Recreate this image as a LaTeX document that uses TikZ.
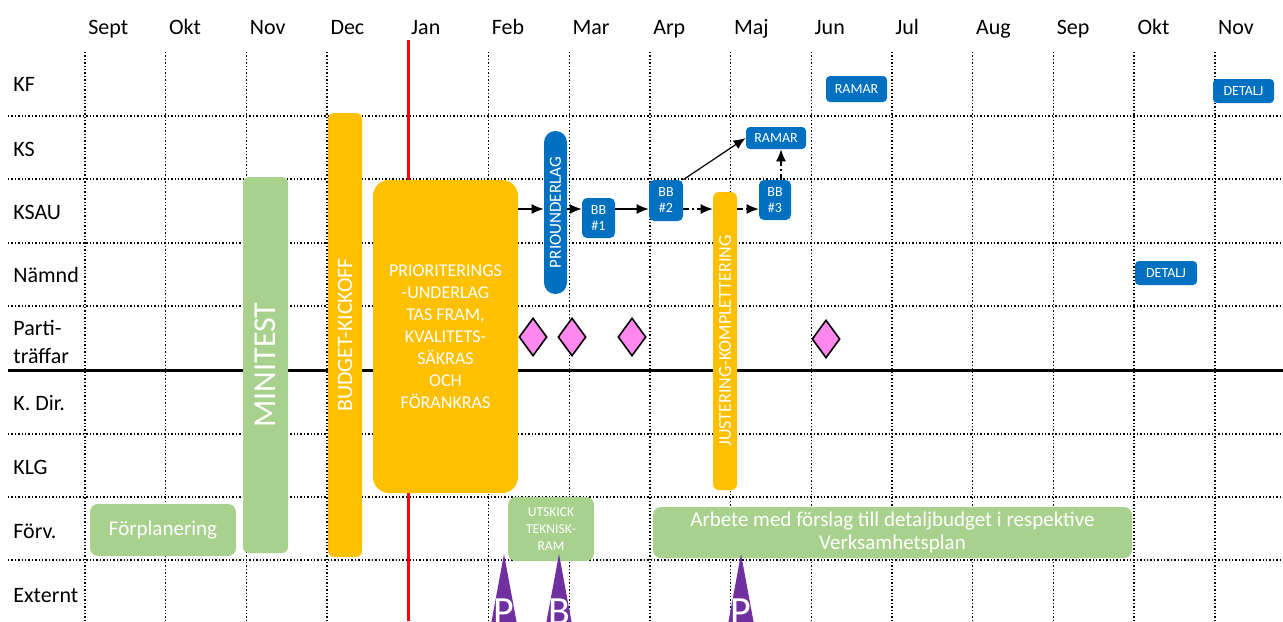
\documentclass[tikz,border=0pt]{standalone}
\usepackage{fontspec}
\setmainfont{Carlito}
\usetikzlibrary{arrows.meta,shapes.geometric}
\definecolor{kblue}{HTML}{0070C0}
\definecolor{korange}{HTML}{FFC000}
\definecolor{kgreen}{HTML}{A9D18E}
\definecolor{kpurple}{HTML}{7030A0}
\definecolor{kpink}{HTML}{FF88EE}

\begin{document}
\begin{tikzpicture}[x=0.5pt, y=-0.5pt,
  grid/.style={densely dotted, line width=0.7pt},
  monthlbl/.style={anchor=base west, inner sep=0pt, font=\fontsize{11}{13}\selectfont},
  rowlbl/.style={anchor=base west, inner sep=0pt, font=\fontsize{11}{14}\selectfont, align=left},
  box/.style={rectangle, rounded corners=2.5pt, inner sep=0pt, text=white, align=center},
  bluebox/.style={box, fill=kblue, font=\fontsize{7}{8}\selectfont},
  orangebox/.style={box, fill=korange, rounded corners=3pt},
  greenbox/.style={box, fill=kgreen, rounded corners=4pt},
  meet/.style={diamond, draw=black, fill=kpink, line width=0.8pt, inner sep=0pt, minimum width=14pt, minimum height=19pt},
  extlbl/.style={anchor=base, inner sep=0pt, text=white, font=\fontsize{20}{20}\selectfont},
  flow/.style={-{Latex[length=6pt,width=5pt]}, line width=0.6pt},
  dashdotline/.style={dash pattern=on 3pt off 1.5pt on 0.8pt off 1.5pt}]
  \clip (0,0) rectangle (1283,621);

  % Grid
  \foreach \i in {0,...,14}
    \draw[grid] ({85+80.7*\i},52) -- ({85+80.7*\i},621);
  \foreach \y in {116,179,243,306,434,497,560}
    \draw[grid] (8,\y) -- (1283,\y);
  \draw[line width=1.5pt] (8,370) -- (1283,370);
  \draw[red, line width=1.5pt] (408,40) -- (408,621);

  % Months and rows
  \foreach \m [count=\i from 0] in {Sept,Okt,Nov,Dec,Jan,Feb,Mar,Arp,Maj,Jun,Jul,Aug,Sep,Okt,Nov}
    \node[monthlbl] (m\i) at ({85+80.7*\i+3},34) {\m};
  \foreach \lbl/\yb [count=\i] in {KF/91,KS/156,KSAU/219,Nämnd/282,K. Dir./410,KLG/474,Förv./538,Externt/602}
    \node[rowlbl] (row\i) at (13,\yb) {\lbl};
  \node[rowlbl, anchor=west] (rowparti) at (13,342) {Parti-\\träffar};

  % Bars
  \node[greenbox, rounded corners=3pt, minimum width=22.5pt, minimum height=188pt, font=\fontsize{16}{16}\selectfont] (minitest) at (265.5,365) {\rotatebox{90}{MINITEST}};
  \node[orangebox, minimum width=17pt, minimum height=222pt, font=\fontsize{11}{11}\selectfont] (kickoff) at (345,335) {\rotatebox{90}{BUDGET-KICKOFF}};
  \node[orangebox, rounded corners=8pt, minimum width=72.5pt, minimum height=156.5pt, font=\fontsize{9}{11}\selectfont] (prio) at (445.5,336.5) {PRIORITERINGS\\-UNDERLAG\\TAS FRAM,\\KVALITETS-\\SÄKRAS\\OCH\\FÖRANKRAS};
  \node[bluebox, rounded corners=5.7pt, minimum width=11.5pt, minimum height=81.5pt, font=\fontsize{8.5}{8.5}\selectfont] (underlag) at (555.5,212.5) {\rotatebox{90}{PRIOUNDERLAG}};
  \node[orangebox, minimum width=12pt, minimum height=149pt, font=\fontsize{9}{9}\selectfont] (justering) at (725,341) {\rotatebox{90}{JUSTERING-KOMPLETTERING}};

  % Decisions
  \node[bluebox, minimum width=16.5pt, minimum height=20pt] (bb1) at (598.5,218) {BB\\\#1};
  \node[bluebox, minimum width=17pt, minimum height=20.5pt] (bb2) at (666,200.5) {BB\\\#2};
  \node[bluebox, minimum width=16pt, minimum height=20pt] (bb3) at (775,200) {BB\\\#3};
  \node[bluebox, rounded corners=2pt, minimum width=30pt, minimum height=11pt] (ramarks) at (776,138) {RAMAR};
  \node[bluebox, rounded corners=2pt, minimum width=30.5pt, minimum height=13pt] (ramarkf) at (856.5,89) {RAMAR};
  \node[bluebox, rounded corners=2pt, minimum width=30.5pt, minimum height=12pt] (detaljkf) at (1243.5,91) {DETALJ};
  \node[bluebox, rounded corners=2pt, minimum width=31pt, minimum height=12pt] (detaljn) at (1166,273) {DETALJ};

  % Administration
  \node[greenbox, minimum width=73pt, minimum height=26pt, font=\fontsize{10.5}{12}\selectfont] (forplan) at (163,530) {Förplanering};
  \node[greenbox, minimum width=43pt, minimum height=32pt, font=\fontsize{6.8}{8.7}\selectfont] (utskick) at (551,529) {UTSKICK\\TEKNISK-\\RAM};
  \node[greenbox, minimum width=239.5pt, minimum height=25.5pt, font=\fontsize{10.5}{11.5}\selectfont] (arbete) at (892.5,532.5) {Arbete med förslag till detaljbudget i respektive\\Verksamhetsplan};

  % Party meetings
  \foreach \x/\y [count=\i] in {533/337,572/337,632/337,826/339}
    \node[meet] (meet\i) at (\x,\y) {};

  % External
  \foreach \x/\t [count=\i] in {504/P,559/B,741/P} {
    \fill[kpurple] (\x,554) -- (\x-20,662) -- (\x+20,662) -- cycle;
    \node[extlbl] (ext\i) at (\x,624) {\t};
  }

  % Flow
  \coordinate (lane) at (0,209);
  \path[flow]
    (prio.east |- lane) edge (underlag.west |- lane)
    (underlag.east |- lane) edge (bb1.west |- lane)
    (bb1.east |- lane) edge (bb2.west |- lane)
    (bb2.north east) edge (ramarks.west);
  \path[flow, dashdotline]
    (bb2.east |- lane) edge (justering.west |- lane)
    (justering.east |- lane) edge (bb3.west |- lane)
    ([xshift=3pt]bb3.north) edge ([xshift=3pt]bb3.north |- ramarks.south);
\end{tikzpicture}
\end{document}
